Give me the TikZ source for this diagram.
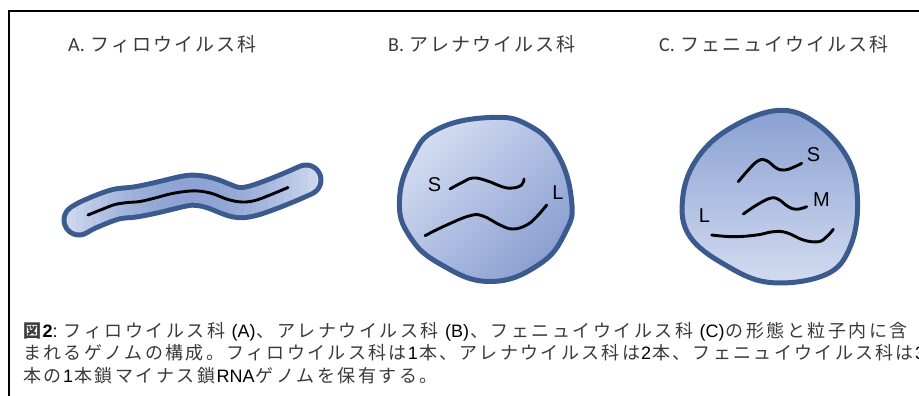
\documentclass[tikz,border=0pt]{standalone}
\usepackage{fontspec}
\setmainfont{Liberation Sans}
\newfontfamily\jpfont{Noto Sans CJK JP}
\newfontfamily\calfont{Carlito}

\definecolor{rim}{HTML}{3B5B8F}
\definecolor{paleblue}{HTML}{D3DCF1}
\definecolor{deepblue}{HTML}{8AA0D2}
\definecolor{inkgray}{HTML}{3A3A3A}

% fixed-pitch setting of Japanese runs
\newlength\slotw
\newlength\capslot
\setlength\capslot{20.5pt}
\def\trk#1{\trkloop#1\relax}
\def\trkloop#1{\ifx#1\relax\else\makebox[\slotw][c]{#1}\expandafter\trkloop\fi}
\newcommand\jc[1]{{\jpfont\color{inkgray}\setlength\slotw{\capslot}\trk{#1}}}
\newcommand\jt[1]{{\jpfont\fontsize{19}{19}\selectfont\setlength\slotw{21pt}\trk{#1}}}

\tikzset{
  rimline/.style={draw=rim, line width=5pt},
  genome/.style={draw=black, line width=2.9pt, line cap=round, line join=round},
  seglabel/.style={font=\fontsize{20}{20}\selectfont, inner sep=0pt, text=black},
  title/.style={anchor=base west, inner sep=0pt, text=inkgray, font=\calfont\fontsize{20}{20}\selectfont},
  captionline/.style={anchor=base west, inner sep=0pt, font=\fontsize{18}{18}\selectfont},
}

\begin{document}
\begin{tikzpicture}[x=1pt, y=-1pt]
\useasboundingbox (0,0) rectangle (919,396);

% outer frame
\draw[line width=1.5pt] (940,11) -- (9,11) -- (9,420);

% panel titles
\node[title] (ta) at (68,52) {A.\kern5pt\jt{フィロウイルス科}};
\node[title] (tb) at (388,52) {B.\kern4pt\jt{アレナウイルス科}};
\node[title] (tc) at (659,52) {C.\kern5pt\jt{フェニュイウイルス科}};

% A: filamentous particle, shaded in vertical bands (pale ends, deeper middle)
\def\tube{plot[smooth, tension=0.6] coordinates {(79,220) (90,214) (115,204.5) (135,202) (155,198) (185,191) (198,190.5) (212,193.5) (235,202) (250,201.5) (270,195) (290,187) (306,180)}}
\draw[draw=rim, line width=35pt, line cap=round, line join=round] \tube;
\foreach \i in {0,...,33} {
  \pgfmathsetmacro\xa{52+8*\i}
  \pgfmathsetmacro\xb{\xa+8.6}
  \pgfmathsetmacro\mixp{max(0,min(100,95*sin(0.687*(\xa-58))))}
  \begin{scope}
    \clip (\xa,140) rectangle (\xb,270);
    \draw[draw=deepblue!\mixp!paleblue, line width=25pt, line cap=round, line join=round] \tube;
  \end{scope}
}
\draw[genome] plot[smooth, tension=0.6] coordinates {(88,215) (103,209) (115,204.5) (128,202.5) (140,201.5) (155,198) (170,194) (185,191.5) (198,191) (212,193.5) (228,199.5) (242,202) (255,200.5) (270,195) (288,187.5)};

% B: round particle with S and L segments
\path[top color=paleblue, bottom color=deepblue, shading angle=45, rimline]
  plot[smooth cycle, tension=0.75] coordinates {(490,117.5) (437,129.5) (412,158) (399.5,200) (409.5,236) (441,264.5) (490,281.5) (539,264.5) (565.5,232) (571.5,200) (557.5,154) (529,125.5)};
\draw[genome] plot[smooth, tension=0.7] coordinates {(450,189) (461.7,182.7) (473,178) (486.7,180.7) (503,187) (513,188) (521.7,185) (524,179)};
\draw[genome] plot[smooth, tension=0.7] coordinates {(425,235.7) (446.7,225) (470,215.7) (483,216) (500,225) (513,229) (526.7,225) (536.7,216.7) (546.7,205)};
\node[seglabel] (bs) at (434.5,185) {S};
\node[seglabel] (bl) at (558,192.5) {L};

% C: round particle with S, M and L segments
\path[top color=deepblue, bottom color=paleblue, rimline]
  plot[smooth cycle, tension=0.65] coordinates {(777,110.5) (728,129.5) (695.5,161) (682.5,200) (689.5,236) (724.5,264.5) (770,282.5) (826,274.5) (850.5,246) (857.5,200) (847.5,158) (815,122.5)};
\draw[genome] plot[smooth, tension=0.7] coordinates {(738.3,181.7) (748.3,170) (758.3,160.7) (766.7,160.7) (776.7,168.3) (785,170) (793.3,167.3) (801.7,163.3)};
\draw[genome] plot[smooth, tension=0.7] coordinates {(743.3,214) (756.7,205) (770,198.3) (778.3,199.3) (788.3,206.7) (796.7,209.3) (806.7,206.7)};
\draw[genome] plot[smooth, tension=0.7] coordinates {(711.7,235) (733.3,236.7) (756.7,235) (773.3,231.7) (786.7,232.7) (803.3,240) (818.3,241.7) (826.7,236.7) (833.3,229.3)};
\node[seglabel] (cs) at (813.5,154.5) {S};
\node[seglabel] (cm) at (821.5,199.5) {M};
\node[seglabel] (cl) at (704.5,215.5) {L};

% caption
\node[captionline] (cap1) at (22,337) {{\bfseries\jc{図}2}:~\jc{フィロウイルス科}~(A)\jc{、アレナウイルス科}~(B)\jc{、フェニュイウイルス科}~(C)\jc{の形態と粒子内に含}};
\node[captionline] (cap2) at (22,359.5) {\setlength\capslot{20.3pt}\jc{まれるゲノムの構成。フィロウイルス科は}1\jc{本、アレナウイルス科は}2\jc{本、フェニュイウイルス科は}3};
\node[captionline] (cap3) at (22,382) {\jc{本の}1\jc{本鎖マイナス鎖}RNA\jc{ゲノムを保有する。}};
\end{tikzpicture}
\end{document}
